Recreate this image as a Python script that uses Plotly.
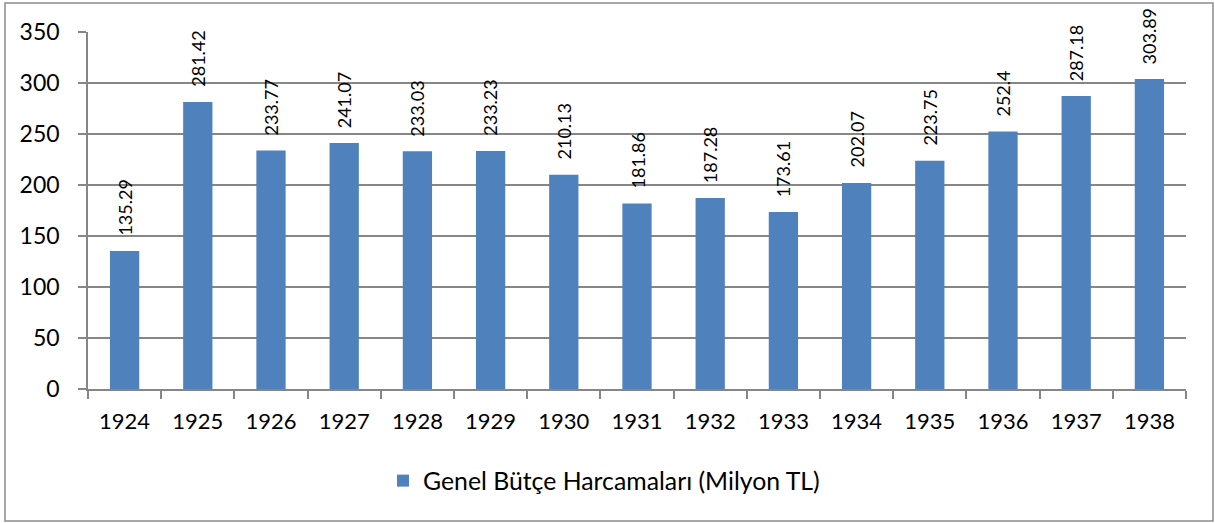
import plotly.graph_objects as go

years = ["1924", "1925", "1926", "1927", "1928", "1929", "1930", "1931",
         "1932", "1933", "1934", "1935", "1936", "1937", "1938"]
spending = [135.29, 281.42, 233.77, 241.07, 233.03, 233.23, 210.13, 181.86,
            187.28, 173.61, 202.07, 223.75, 252.4, 287.18, 303.89]
labels = ["135.29", "281.42", "233.77", "241.07", "233.03", "233.23", "210.13", "181.86",
          "187.28", "173.61", "202.07", "223.75", "252.4", "287.18", "303.89"]
series_name = "Genel Bütçe Harcamaları (Milyon TL)"
y_ticks = [0, 50, 100, 150, 200, 250, 300, 350]

W, H = 1215, 523
L, R, T, B = 88, 29, 32, 134
pw, ph = W - L - R, H - T - B

FONT = "Lato"
GRID = "#868686"

fig = go.Figure()
fig.add_trace(go.Bar(
    x=years, y=spending, name=series_name,
    marker=dict(color="#4F81BD", line=dict(width=0)),
    showlegend=True,
))

for i, (val, lab) in enumerate(zip(spending, labels)):
    fig.add_annotation(x=i, y=val, xref="x", yref="y", text=lab, showarrow=False,
                       textangle=-90, xanchor="center", yanchor="bottom", yshift=13,
                       font=dict(family=FONT, size=18, color="#000000"))


def px_x(x):
    return (x - L) / pw


def px_y(y):
    return (H - B - y) / ph


fig.add_shape(type="rect", xref="paper", yref="paper",
              x0=px_x(5), x1=px_x(1213), y0=px_y(521), y1=px_y(3),
              line=dict(color="#8C8C8C", width=1.5), fillcolor="rgba(0,0,0,0)", layer="below")

fig.update_layout(
    width=W, height=H,
    margin=dict(l=L, r=R, t=T, b=B, pad=0),
    paper_bgcolor="white", plot_bgcolor="white",
    bargap=0.6,
    font=dict(family=FONT, size=22, color="#000000"),
    legend=dict(orientation="h", x=px_x(383), xanchor="left", y=px_y(481), yanchor="middle",
                font=dict(family=FONT, size=24.8), itemwidth=30, bgcolor="rgba(0,0,0,0)"),
    xaxis=dict(type="category", categoryorder="array", categoryarray=years,
               range=[-0.5, len(years) - 0.5],
               showline=True, linecolor=GRID, linewidth=1.5,
               ticks="outside", tickson="boundaries", ticklen=8, tickcolor=GRID,
               tickwidth=1.5, showgrid=False, ticklabelstandoff=12,
               tickfont=dict(family=FONT, size=22)),
    yaxis=dict(range=[0, 350], tickvals=y_ticks, showline=True, linecolor=GRID, linewidth=1.5,
               ticks="outside", ticklen=8, tickcolor=GRID, tickwidth=1.5,
               showgrid=True, gridcolor=GRID, gridwidth=1.5, zeroline=False,
               ticklabelstandoff=14, tickfont=dict(family=FONT, size=23)),
)

fig.write_html("out.html", config={"displayModeBar": False},
               post_script="document.body.style.margin='0';document.body.style.overflow='hidden';")
